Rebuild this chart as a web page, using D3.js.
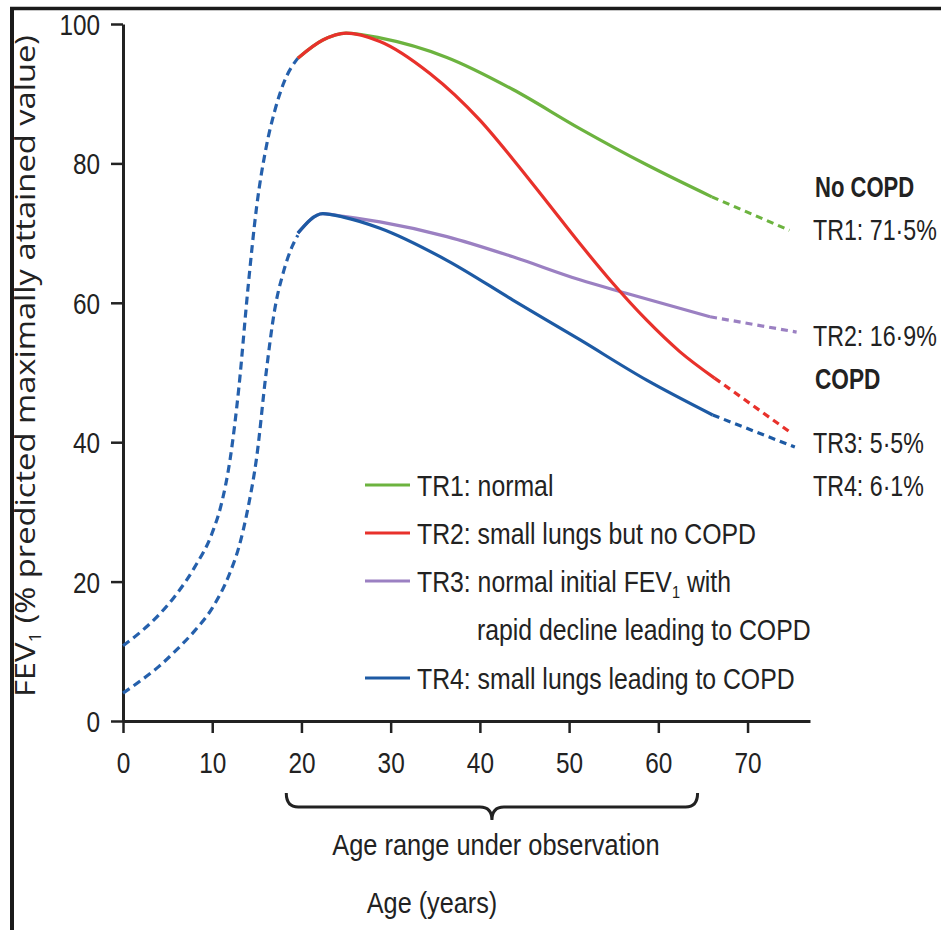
<!DOCTYPE html>
<html>
<head>
<meta charset="utf-8">
<script src="https://cdn.jsdelivr.net/npm/d3@7"></script>
<style>
  html, body { margin: 0; padding: 0; background: #fff; }
  svg { display: block; }
  .narrow { font-family: 'Liberation Sans', Arial, sans-serif; fill: #222; }
  .wide { font-family: 'Open Sans', 'Noto Sans', sans-serif; fill: #222; }
</style>
</head>
<body>
<svg id="chart" width="941" height="930"></svg>
<script>
// ---- data -------------------------------------------------------------
// Childhood growth (dashed) for the two starting levels
const riseAge  = [0, 2, 4, 6, 8, 10, 11, 12, 13, 14, 15, 16, 17, 18, 19.6];
const riseHigh = [10.8, 12.8, 15.2, 18.2, 22.0, 27, 31, 37.5, 48, 62, 74, 82, 87.5, 91.5, 95.1];
const riseLowAge = [0, 2, 4, 6, 8, 10, 12, 13, 14, 15, 16, 17, 18, 19, 19.6];
const riseLow    = [4.0, 5.8, 7.8, 10.2, 12.9, 16.2, 21.3, 25, 30.5, 38, 49.5, 59, 64.5, 68.2, 69.7];

// Observed trajectories (solid)
const tr1Age = [19.6, 22.4, 25, 28.8, 36.3, 43.7, 51.2, 58.7, 66];
const tr1Val = [95.1, 97.7, 98.7, 98.0, 95.2, 90.6, 85.0, 79.8, 75.2];
const tr2Age = [19.6, 22.4, 25, 28.8, 34.4, 40, 43.7, 47.5, 51.2, 54.9, 58.7, 62.4, 66.3];
const tr2Val = [95.1, 97.7, 98.7, 97.5, 92.9, 86.2, 80.6, 74.5, 68.5, 62.8, 57.5, 53.0, 49.2];
const tr3Age = [19.6, 22.4, 24.7, 28.8, 36.3, 43.7, 51.2, 56.3, 65.8];
const tr3Val = [70, 72.8, 72.4, 71.6, 69.5, 66.6, 63.3, 61.4, 58.0];
const tr4Age = [19.6, 22.4, 24.7, 28.8, 36.3, 43.7, 51.2, 58.7, 66.1];
const tr4Val = [70, 72.8, 72.3, 70.7, 66.1, 60.4, 54.7, 48.9, 43.9];

// Projected continuation (dashed)
const extAge = { tr1: [66, 74.7], tr2: [66.3, 74.7], tr3: [65.8, 75.5], tr4: [66.1, 75.3] };
const extVal = { tr1: [75.2, 70.4], tr2: [49.2, 41.5], tr3: [58.0, 55.8], tr4: [43.9, 39.3] };

const xTicks = [0, 10, 20, 30, 40, 50, 60, 70];
const yTicks = [0, 20, 40, 60, 80, 100];
const observedRange = [18.3, 64.4];

const legendLabels = ["TR1: normal", "TR2: small lungs but no COPD",
  "TR3: normal initial FEV", "TR4: small lungs leading to COPD"];
const sharePctLabels = ["TR1: 71·5%", "TR2: 16·9%", "TR3: 5·5%", "TR4: 6·1%"];

const colors = { tr1: "#6cb33f", tr2: "#e8312b", tr3: "#9b80c2", tr4: "#1d5aa4", rise: "#2560ac" };

// ---- helpers ----------------------------------------------------------
// Condense a text horizontally to a fraction of its natural width.
function squeeze(sel, f) {
  sel.each(function () {
    const L = this.getComputedTextLength();
    this.setAttribute("textLength", (L * f).toFixed(1));
    this.setAttribute("lengthAdjust", "spacingAndGlyphs");
  });
  return sel;
}

// ---- scales -----------------------------------------------------------
const svg = d3.select("#chart");
const x = d3.scaleLinear().domain([0, 77]).range([123, 810]);
const y = d3.scaleLinear().domain([0, 100]).range([721, 24]);

const zip = (a, v) => a.map((d, i) => [d, v[i]]);
const line = d3.line().x(d => x(d[0])).y(d => y(d[1])).curve(d3.curveMonotoneX);

// ---- frame ------------------------------------------------------------
svg.append("line").attr("x1", 10).attr("x2", 941).attr("y1", 8.5).attr("y2", 8.5)
  .attr("stroke", "#1a1a1a").attr("stroke-width", 3.5);
svg.append("line").attr("x1", 12).attr("x2", 12).attr("y1", 7).attr("y2", 930)
  .attr("stroke", "#1a1a1a").attr("stroke-width", 4);

// ---- axes -------------------------------------------------------------
const gx = svg.append("g").attr("transform", `translate(0,${y(0)})`)
  .call(d3.axisBottom(x).tickValues(xTicks).tickSize(12).tickSizeOuter(0).tickFormat(d3.format("d")));
const gy = svg.append("g").attr("transform", `translate(${x(0)},0)`)
  .call(d3.axisLeft(y).tickValues(yTicks).tickSize(12).tickSizeOuter(0).tickFormat(d3.format("d")));
[gx, gy].forEach(g => {
  g.select(".domain").attr("stroke", "#222").attr("stroke-width", 3);
  g.selectAll(".tick line").attr("stroke", "#222").attr("stroke-width", 2.5);
  g.selectAll(".tick text").attr("class", "narrow").attr("font-size", 29).attr("fill", "#222");
});
gx.selectAll(".tick text").attr("y", 52).attr("dy", 0);
gy.selectAll(".tick text").attr("x", -23).attr("dy", "0.36em");
squeeze(gx.selectAll(".tick text"), 0.84);
squeeze(gy.selectAll(".tick text"), 0.84);

// ---- curves -----------------------------------------------------------
const dash = "8,5";
svg.append("path").datum(zip(riseAge, riseHigh)).attr("d", line)
  .attr("fill", "none").attr("stroke", colors.rise).attr("stroke-width", 3.2).attr("stroke-dasharray", dash);
svg.append("path").datum(zip(riseLowAge, riseLow)).attr("d", line)
  .attr("fill", "none").attr("stroke", colors.rise).attr("stroke-width", 3.2).attr("stroke-dasharray", dash);

const solid = [
  ["tr1", tr1Age, tr1Val], ["tr3", tr3Age, tr3Val],
  ["tr4", tr4Age, tr4Val], ["tr2", tr2Age, tr2Val]
];
solid.forEach(([k, a, v]) => {
  svg.append("path").datum(zip(a, v)).attr("d", line)
    .attr("fill", "none").attr("stroke", colors[k]).attr("stroke-width", 3.2);
  svg.append("path").datum(zip(extAge[k], extVal[k])).attr("d", line)
    .attr("fill", "none").attr("stroke", colors[k]).attr("stroke-width", 3.2).attr("stroke-dasharray", "7,5");
});

// ---- legend -----------------------------------------------------------
const legRows = [485, 533, 581, 678];
const legKeys = ["tr1", "tr2", "tr3", "tr4"];
legKeys.forEach((k, i) => {
  svg.append("line").attr("x1", 365).attr("x2", 410).attr("y1", legRows[i]).attr("y2", legRows[i])
    .attr("stroke", colors[k]).attr("stroke-width", 3);
  const t = svg.append("text").attr("class", "narrow").attr("font-size", 29)
    .attr("x", 417).attr("y", legRows[i] + 11).text(legendLabels[i]);
  if (k === "tr3") {
    t.append("tspan").attr("font-size", 17).attr("dy", 6).attr("fill", "#222").text("1");
    t.append("tspan").attr("dy", -6).text(" with");
  }
  squeeze(t, 0.855);
});
squeeze(svg.append("text").attr("class", "narrow").attr("font-size", 29)
  .attr("x", 477).attr("y", 640).text("rapid decline leading to COPD"), 0.855);

// ---- right-hand group shares ------------------------------------------
squeeze(svg.append("text").attr("class", "narrow").attr("font-size", 29).attr("font-weight", "bold")
  .attr("x", 815).attr("y", 197).text("No COPD"), 0.76);
squeeze(svg.append("text").attr("class", "narrow").attr("font-size", 29).attr("font-weight", "bold")
  .attr("x", 815).attr("y", 389).text("COPD"), 0.78);
const shareY = [240, 346, 453, 496];
sharePctLabels.forEach((s, i) => {
  squeeze(svg.append("text").attr("class", "narrow").attr("font-size", 29)
    .attr("x", 813).attr("y", shareY[i]).text(s), 0.8);
});

// ---- observation brace ------------------------------------------------
const bx0 = x(observedRange[0]), bx1 = x(observedRange[1]), bxc = (bx0 + bx1) / 2;
const by = 807, byTop = 793, byTip = 820, r = 12;
svg.append("path")
  .attr("d", `M${bx0},${byTop} Q${bx0},${by} ${bx0 + r},${by} L${bxc - r},${by} Q${bxc},${by} ${bxc},${byTip}
              Q${bxc},${by} ${bxc + r},${by} L${bx1 - r},${by} Q${bx1},${by} ${bx1},${byTop}`)
  .attr("fill", "none").attr("stroke", "#222").attr("stroke-width", 3);

squeeze(svg.append("text").attr("class", "narrow").attr("font-size", 29).attr("text-anchor", "middle")
  .attr("x", bxc + 4).attr("y", 855).text("Age range under observation"), 0.875);
squeeze(svg.append("text").attr("class", "narrow").attr("font-size", 29).attr("text-anchor", "middle")
  .attr("x", 432).attr("y", 913).text("Age (years)"), 0.87);

// ---- y-axis title -----------------------------------------------------
const yt = svg.append("text").attr("class", "wide").attr("font-size", 28).attr("text-anchor", "middle")
  .attr("transform", "translate(35,366) rotate(-90)")
  .attr("textLength", 662).attr("lengthAdjust", "spacingAndGlyphs");
yt.append("tspan").text("FEV");
yt.append("tspan").attr("font-size", 16).attr("dy", 6).text("1");
yt.append("tspan").attr("dy", -6).text(" (% predicted maximally attained value)");
</script>
</body>
</html>
